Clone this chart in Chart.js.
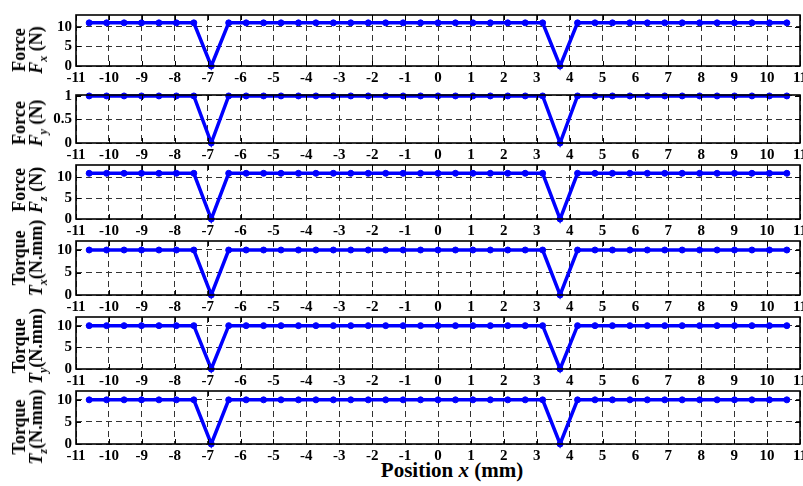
<!DOCTYPE html>
<html>
<head>
<meta charset="utf-8">
<script src="https://cdn.jsdelivr.net/npm/chart.js@4.4.1/dist/chart.umd.min.js"></script>
<style>
  body { margin: 0; background: #fff; }
  #wrap { position: relative; width: 803px; height: 486px; overflow: hidden; background: #fff; }
  #wrap canvas { position: absolute; left: 0; }
  .ylab {
    position: absolute; left: 27.5px; white-space: nowrap; text-align: center;
    font: bold 18px "Liberation Serif", "Times New Roman", serif; line-height: 17px; color: #000;
    transform: translate(-50%, -50%) rotate(-90deg);
  }
  .ylab sub { font-size: 12px; vertical-align: -5px; line-height: 0; }
  #xlab {
    position: absolute; left: 452px; top: 470px; white-space: nowrap;
    font: bold 21px "Liberation Serif", "Times New Roman", serif; color: #000;
    transform: translate(-50%, -50%);
  }
</style>
</head>
<body>
<div id="wrap">
  <div id="xlab">Position <i>x</i> (mm)</div>
</div>
<script>
// sample positions along x (mm)
const positions = [-10.6, -10.07, -9.54, -9.01, -8.48, -7.95, -7.42, -6.89, -6.36, -5.83,
  -5.30, -4.77, -4.24, -3.71, -3.18, -2.65, -2.12, -1.59, -1.06, -0.53,
  0, 0.53, 1.06, 1.59, 2.12, 2.65, 3.18, 3.71, 4.24, 4.77,
  5.30, 5.83, 6.36, 6.89, 7.42, 7.95, 8.48, 9.01, 9.54, 10.07, 10.6];

const forceX = [11, 11, 11, 11, 11, 11, 11, 0, 11, 11, 11, 11, 11, 11, 11, 11, 11, 11, 11, 11,
  11, 11, 11, 11, 11, 11, 11, 0, 11, 11, 11, 11, 11, 11, 11, 11, 11, 11, 11, 11, 11];
const forceY = [1, 1, 1, 1, 1, 1, 1, 0, 1, 1, 1, 1, 1, 1, 1, 1, 1, 1, 1, 1,
  1, 1, 1, 1, 1, 1, 1, 0, 1, 1, 1, 1, 1, 1, 1, 1, 1, 1, 1, 1, 1];
const forceZ = [11, 11, 11, 11, 11, 11, 11, 0, 11, 11, 11, 11, 11, 11, 11, 11, 11, 11, 11, 11,
  11, 11, 11, 11, 11, 11, 11, 0, 11, 11, 11, 11, 11, 11, 11, 11, 11, 11, 11, 11, 11];
const torqueX = [10, 10, 10, 10, 10, 10, 10, 0, 10, 10, 10, 10, 10, 10, 10, 10, 10, 10, 10, 10,
  10, 10, 10, 10, 10, 10, 10, 0, 10, 10, 10, 10, 10, 10, 10, 10, 10, 10, 10, 10, 10];
const torqueY = [10, 10, 10, 10, 10, 10, 10, 0, 10, 10, 10, 10, 10, 10, 10, 10, 10, 10, 10, 10,
  10, 10, 10, 10, 10, 10, 10, 0, 10, 10, 10, 10, 10, 10, 10, 10, 10, 10, 10, 10, 10];
const torqueZ = [10, 10, 10, 10, 10, 10, 10, 0, 10, 10, 10, 10, 10, 10, 10, 10, 10, 10, 10, 10,
  10, 10, 10, 10, 10, 10, 10, 0, 10, 10, 10, 10, 10, 10, 10, 10, 10, 10, 10, 10, 10];

// tick labels
const xTicks = [-11, -10, -9, -8, -7, -6, -5, -4, -3, -2, -1, 0, 1, 2, 3, 4, 5, 6, 7, 8, 9, 10, 11];
const yTicksForce = [0, 5, 10];
const yTicksUnit = [0, 0.5, 1];
const yTicksTorque = [0, 5, 10];

// panel layout: [data, y ticks, y max, box top, box bottom, label centre, label html]
const panels = [
  [forceX, yTicksForce, 13, 15, 66, 50, 'Force<br><i>F</i><sub><i>x</i></sub> (N)'],
  [forceY, yTicksUnit, 1.02, 95, 143, 123, 'Force<br><i>F</i><sub><i>y</i></sub> (N)'],
  [forceZ, yTicksForce, 13, 165, 219, 190, 'Force<br><i>F</i><sub><i>z</i></sub> (N)'],
  [torqueX, yTicksTorque, 12, 241, 295, 258, 'Torque<br><i>T</i><sub><i>x</i></sub>(N.mm)'],
  [torqueY, yTicksTorque, 12, 317, 369, 346, 'Torque<br><i>T</i><sub><i>y</i></sub>(N.mm)'],
  [torqueZ, yTicksTorque, 12, 391, 444, 427, 'Torque<br><i>T</i><sub><i>z</i></sub>(N.mm)']
];

const FONT = "'Liberation Serif', serif";
const PAD_TOP = 6;
const XAXIS_H = 22;

// box outline plus short inward tick marks on all four sides
const boxPlugin = {
  id: 'box',
  afterDraw(chart) {
    const ctx = chart.ctx;
    const a = chart.chartArea;
    const xs = chart.scales.x, ys = chart.scales.y;
    ctx.save();
    ctx.strokeStyle = '#000';
    ctx.lineWidth = 1;
    ctx.beginPath();
    xs.ticks.forEach(t => {
      const px = Math.round(xs.getPixelForValue(t.value)) + 0.5;
      ctx.moveTo(px, a.bottom); ctx.lineTo(px, a.bottom - 5);
      ctx.moveTo(px, a.top); ctx.lineTo(px, a.top + 5);
    });
    ys.ticks.forEach(t => {
      const py = Math.round(ys.getPixelForValue(t.value)) + 0.5;
      ctx.moveTo(a.left, py); ctx.lineTo(a.left + 5, py);
      ctx.moveTo(a.right, py); ctx.lineTo(a.right - 5, py);
    });
    ctx.stroke();
    ctx.lineWidth = 1.6;
    ctx.strokeRect(a.left, a.top, a.right - a.left, a.bottom - a.top);
    ctx.restore();
  }
};

// drop the edge padding chart.js reserves for first/last labels
function noPad(s) {
  s.paddingLeft = 0; s.paddingRight = 0; s.paddingTop = 0; s.paddingBottom = 0;
}

const wrap = document.getElementById('wrap');

function drawPanel(p) {
  const values = p[0], yTicks = p[1], yMax = p[2], top = p[3], bottom = p[4];

  const canvas = document.createElement('canvas');
  const h = (bottom - top) + PAD_TOP + XAXIS_H;
  canvas.width = 803;
  canvas.height = h;
  canvas.style.top = (top - PAD_TOP) + 'px';
  wrap.appendChild(canvas);

  const lab = document.createElement('div');
  lab.className = 'ylab';
  lab.style.top = p[5] + 'px';
  lab.innerHTML = p[6];
  wrap.appendChild(lab);

  new Chart(canvas.getContext('2d'), {
    type: 'line',
    data: {
      datasets: [{
        data: positions.map((x, i) => ({ x: x, y: values[i] })),
        borderColor: '#0000ff',
        backgroundColor: '#0000ff',
        borderWidth: 3.5,
        pointRadius: 3,
        pointBorderWidth: 1,
        pointBackgroundColor: '#0000ff',
        pointBorderColor: '#0000ff',
        tension: 0,
        clip: false
      }]
    },
    options: {
      responsive: false,
      animation: false,
      devicePixelRatio: 1,
      layout: { autoPadding: false, padding: { top: PAD_TOP, right: 3, left: 0, bottom: 0 } },
      plugins: { legend: { display: false }, tooltip: { enabled: false } },
      scales: {
        x: {
          type: 'linear', min: -11, max: 11,
          afterBuildTicks: s => { s.ticks = xTicks.map(v => ({ value: v })); },
          afterFit: s => { s.height = XAXIS_H; noPad(s); },
          grid: { color: '#333', lineWidth: 1, drawTicks: false },
          border: { display: false, dash: [6, 4] },
          ticks: { color: '#000', padding: 3, maxRotation: 0, autoSkip: false,
            callback: v => String(v),
            font: { family: FONT, weight: 'bold', size: 15 } }
        },
        y: {
          type: 'linear', min: 0, max: yMax,
          afterBuildTicks: s => { s.ticks = yTicks.map(v => ({ value: v })); },
          afterFit: s => { s.width = 76; noPad(s); },
          grid: { color: '#333', lineWidth: 1, drawTicks: false },
          border: { display: false, dash: [6, 4] },
          ticks: { color: '#000', padding: 4, autoSkip: false,
            callback: v => String(v),
            font: { family: FONT, weight: 'bold', size: 15 } }
        }
      }
    },
    plugins: [boxPlugin]
  });
}

panels.forEach(drawPanel);
</script>
</body>
</html>
